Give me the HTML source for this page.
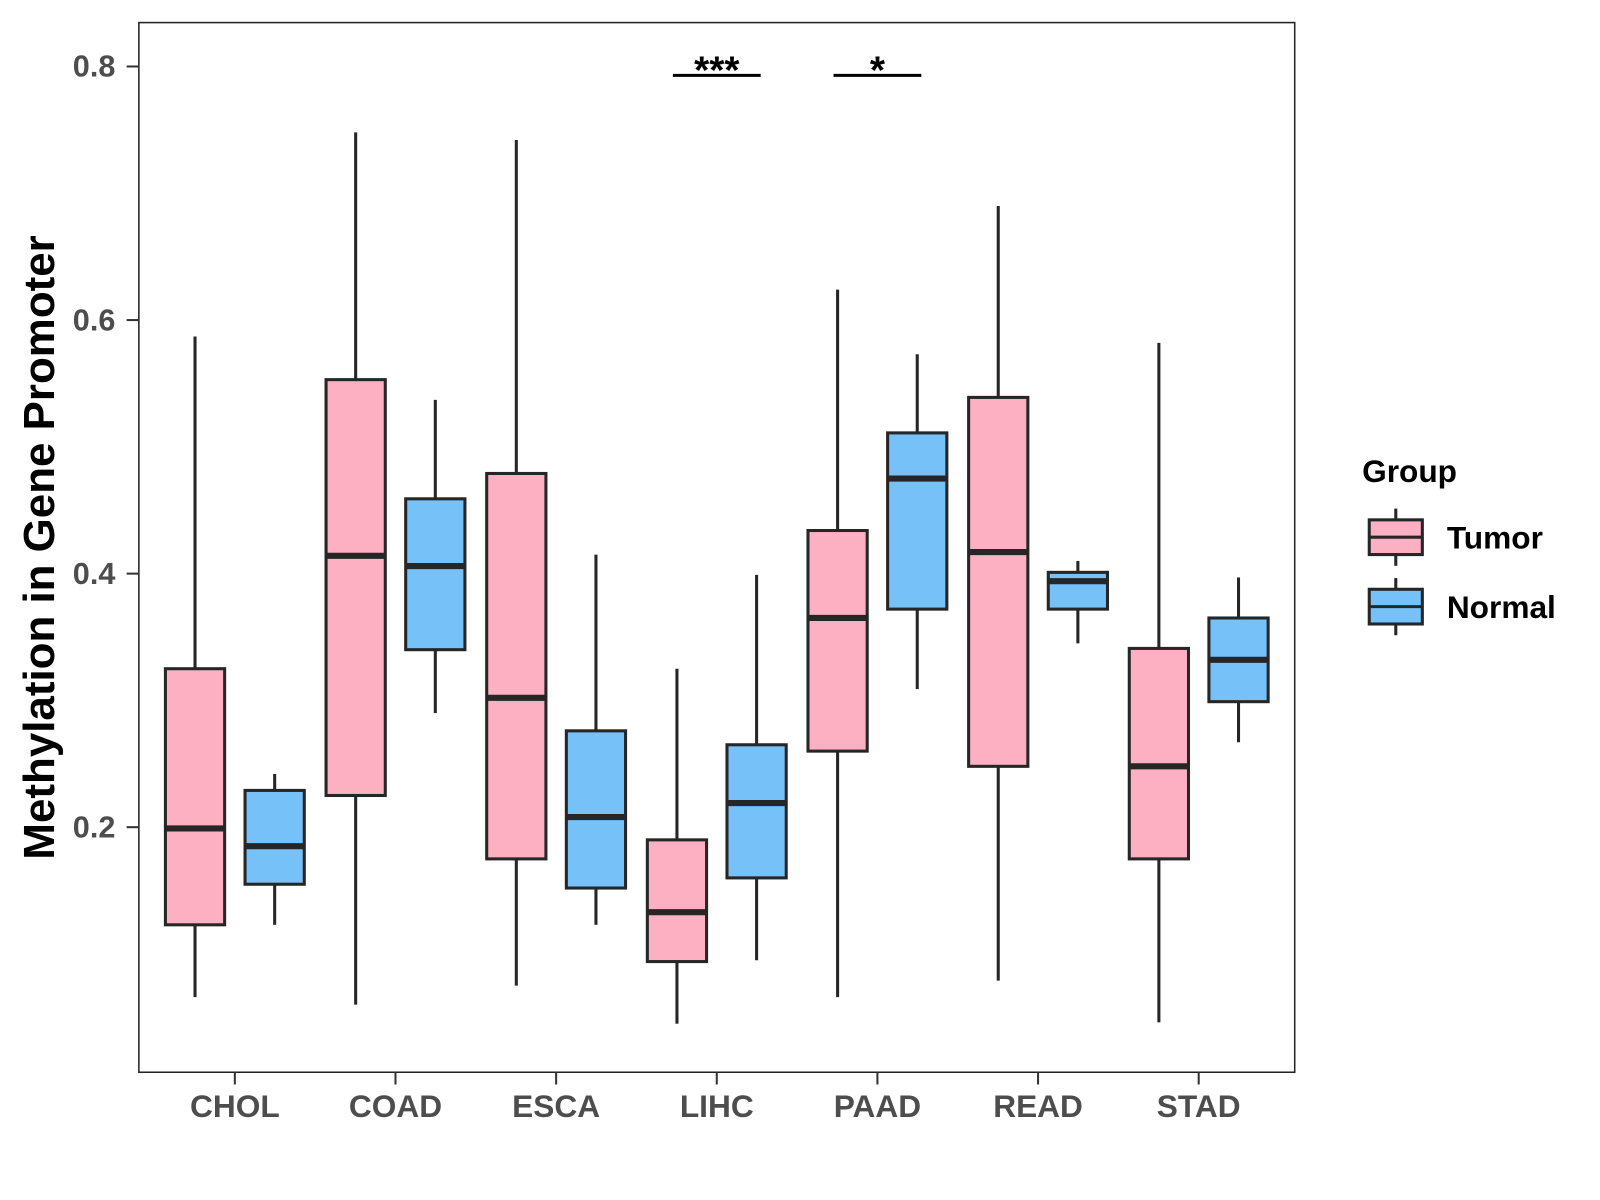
<!DOCTYPE html>
<html><head><meta charset="utf-8"><style>
body{margin:0;background:#fff;}
svg{display:block;font-family:"Liberation Sans",Arial,sans-serif;}
</style></head><body>
<svg id="chart" width="1600" height="1200" viewBox="0 0 1567 1175" xmlns="http://www.w3.org/2000/svg"></svg>
<script>
const categories=["CHOL","COAD","ESCA","LIHC","PAAD","READ","STAD"];
// [whiskerLow, Q1, median, Q3, whiskerHigh]
const tumorStats=[[0.066,0.123,0.199,0.325,0.587],[0.060,0.225,0.414,0.553,0.748],[0.075,0.175,0.302,0.479,0.742],[0.045,0.094,0.133,0.190,0.325],[0.066,0.260,0.365,0.434,0.624],[0.079,0.248,0.417,0.539,0.690],[0.046,0.175,0.248,0.341,0.582]];
const normalStats=[[0.123,0.155,0.185,0.229,0.242],[0.290,0.340,0.406,0.459,0.537],[0.123,0.152,0.208,0.276,0.415],[0.095,0.160,0.219,0.265,0.399],[0.309,0.372,0.475,0.511,0.573],[0.345,0.372,0.394,0.401,0.410],[0.267,0.299,0.332,0.365,0.397]];
const yTicks=[0.2,0.4,0.6,0.8];
const sigMarks=[{cat:"LIHC",label:"***",y:0.793},{cat:"PAAD",label:"*",y:0.793}];

const NS="http://www.w3.org/2000/svg";
const svg=document.getElementById('chart');
const P={l:136,r:1268,t:22,b:1050};
const y=v=>810-(v-0.2)*1241.67;
const x=i=>230+i*157.33;
function mk(tag,attrs,parent){const e=document.createElementNS(NS,tag);for(const k in attrs)e.setAttribute(k,attrs[k]);(parent||svg).appendChild(e);return e;}

const panel=mk('rect',{x:P.l,y:P.t,width:P.r-P.l,height:P.b-P.t,fill:'#fff',stroke:'#222','stroke-width':1.5});



yTicks.forEach(t=>{
  const g=mk('g',{});
  
  
  mk('line',{x1:124,x2:P.l,y1:y(t),y2:y(t),stroke:'#333','stroke-width':2},g);
  const tx=mk('text',{x:113,y:y(t)+10,'text-anchor':'end','font-size':30,'font-weight':'bold',fill:'#4d4d4d'},g);
  tx.textContent=t.toFixed(1);
});
categories.forEach((c,i)=>{
  const g=mk('g',{});
  
  
  mk('line',{x1:x(i),x2:x(i),y1:P.b,y2:P.b+12,stroke:'#333','stroke-width':2},g);
  const tx=mk('text',{x:x(i),y:1094,'text-anchor':'middle','font-size':31,'font-weight':'bold',fill:'#4d4d4d'},g);
  tx.textContent=c;
});

function drawBox(s,cx,fill,name){
  const g=mk('g',{});
  
  
  const w=58;
  mk('line',{x1:cx,x2:cx,y1:y(s[0]),y2:y(s[1]),stroke:'#262626','stroke-width':3},g);
  mk('line',{x1:cx,x2:cx,y1:y(s[3]),y2:y(s[4]),stroke:'#262626','stroke-width':3},g);
  mk('rect',{x:cx-w/2,y:y(s[3]),width:w,height:y(s[1])-y(s[3]),fill:fill,stroke:'#262626','stroke-width':3},g);
  mk('line',{x1:cx-w/2,x2:cx+w/2,y1:y(s[2]),y2:y(s[2]),stroke:'#262626','stroke-width':6},g);
}
categories.forEach((c,i)=>{
  drawBox(tumorStats[i],x(i)-39,'#fcb0c2','box-tumor-'+c.toLowerCase());
  drawBox(normalStats[i],x(i)+39,'#76c1f8','box-normal-'+c.toLowerCase());
});

sigMarks.forEach(m=>{
  const i=categories.indexOf(m.cat);
  const g=mk('g',{});
  
  
  mk('line',{x1:x(i)-43,x2:x(i)+43,y1:y(m.y),y2:y(m.y),stroke:'#000','stroke-width':3},g);
  const tx=mk('text',{x:x(i),y:y(m.y)+8,'text-anchor':'middle','font-size':38,'font-weight':'bold',fill:'#000'},g);
  tx.textContent=m.label;
});

const yt=mk('text',{x:0,y:0,transform:'translate(53,536) rotate(-90)','text-anchor':'middle','font-size':43,'font-weight':'bold',fill:'#000'});
yt.textContent='Methylation in Gene Promoter';



const lg=mk('g',{});


const lt=mk('text',{x:1334,y:472,'font-size':31,'font-weight':'bold',fill:'#000'},lg);
lt.textContent='Group';
[['Tumor','#fcb0c2',526],['Normal','#76c1f8',594]].forEach(([n,f,cy])=>{
  const e=mk('g',{},lg);
  
  
  mk('line',{x1:1367,x2:1367,y1:cy-28,y2:cy+28,stroke:'#262626','stroke-width':3},e);
  mk('rect',{x:1341,y:cy-17,width:52,height:34,fill:f,stroke:'#262626','stroke-width':3},e);
  mk('line',{x1:1341,x2:1393,y1:cy,y2:cy,stroke:'#262626','stroke-width':3},e);
  const t=mk('text',{x:1417,y:cy+11,'font-size':31,'font-weight':'bold',fill:'#000'},e);
  t.textContent=n;
});
</script>
</body></html>
